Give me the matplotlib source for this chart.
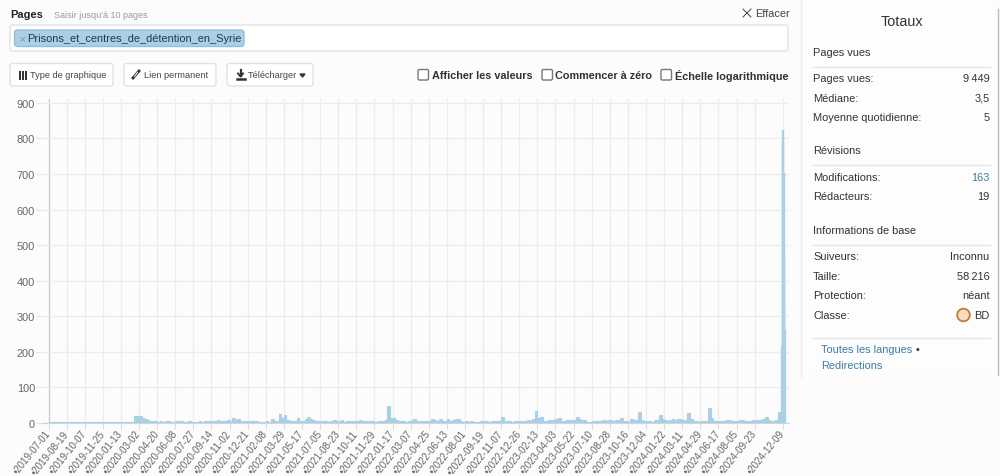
import matplotlib
matplotlib.use('Agg')
import matplotlib.pyplot as plt
import matplotlib.dates as mdates
from matplotlib.patches import FancyBboxPatch, Rectangle, Circle
import pandas as pd

tick_dates = ["2019-07-01", "2019-08-19", "2019-10-07", "2019-11-25", "2020-01-13", "2020-03-02",
              "2020-04-20", "2020-06-08", "2020-07-27", "2020-09-14", "2020-11-02", "2020-12-21",
              "2021-02-08", "2021-03-29", "2021-05-17", "2021-07-05", "2021-08-23", "2021-10-11",
              "2021-11-29", "2022-01-17", "2022-03-07", "2022-04-25", "2022-06-13", "2022-08-01",
              "2022-09-19", "2022-11-07", "2022-12-26", "2023-02-13", "2023-04-03", "2023-05-22",
              "2023-07-10", "2023-08-28", "2023-10-16", "2023-12-04", "2024-01-22", "2024-03-11",
              "2024-04-29", "2024-06-17", "2024-08-05", "2024-09-23", "2024-12-09"]
y_ticks = [0, 100, 200, 300, 400, 500, 600, 700, 800, 900]

# one value per week (7 weeks a row, one row per tick)
weekly_views = [
    2, 2, 2, 2, 2, 2, 2,
    2, 2, 2, 2, 2, 2, 2,
    2, 2, 2, 2, 2, 2, 2,
    2, 2, 2, 2, 2, 2, 2,
    2, 2, 2, 2, 2, 20, 20,
    21, 15, 12, 8, 6, 5, 5,
    4, 5, 4, 5, 7, 4, 4,
    5, 7, 5, 4, 4, 5, 4,
    4, 4, 5, 4, 5, 6, 5,
    6, 5, 9, 5, 5, 7, 9,
    7, 13, 8, 12, 6, 5, 5,
    5, 6, 5, 5, 4, 4, 3,
    5, 4, 12, 7, 6, 25, 13,
    22, 9, 5, 6, 7, 13, 6,
    7, 11, 18, 12, 8, 6, 7,
    6, 7, 5, 4, 6, 8, 5,
    5, 8, 4, 5, 5, 5, 6,
    7, 9, 6, 5, 6, 5, 5,
    4, 5, 5, 6, 8, 48, 14,
    13, 9, 5, 6, 5, 4, 5,
    8, 12, 7, 6, 5, 5, 6,
    5, 11, 8, 7, 10, 6, 5,
    10, 7, 8, 11, 11, 5, 4,
    5, 4, 5, 4, 3, 4, 5,
    5, 6, 4, 5, 5, 7, 6,
    18, 7, 6, 5, 4, 5, 6,
    7, 6, 7, 9, 6, 10, 35,
    14, 18, 7, 6, 8, 9, 8,
    11, 13, 7, 6, 8, 9, 8,
    9, 16, 12, 9, 8, 4, 4,
    7, 6, 5, 7, 8, 6, 9,
    9, 7, 8, 8, 13, 7, 5,
    4, 12, 9, 9, 32, 8, 6,
    7, 5, 4, 9, 9, 22, 10,
    8, 6, 9, 11, 9, 10, 12,
    9, 8, 28, 10, 7, 5, 4,
    5, 5, 7, 43, 15, 7, 6,
    5, 6, 7, 8, 9, 7, 6,
    5, 9, 8, 7, 6, 7, 8,
    8, 9, 8, 10, 18, 8, 7, 7, 9, 30,
]
# the last days are a spike, kept per day
spike_days = ["2024-12-07", "2024-12-08", "2024-12-09", "2024-12-10", "2024-12-11", "2024-12-12", "2024-12-13"]
spike_views = [215, 825, 790, 700, 480, 330, 260]

stats_views = [("Pages vues:", "9\u2009449"), ("Médiane:", "3,5"), ("Moyenne quotidienne:", "5")]
stats_rev = [("Modifications:", "163"), ("Rédacteurs:", "19")]
stats_info = [("Suiveurs:", "Inconnu"), ("Taille:", "58\u2009216"), ("Protection:", "néant"), ("Classe:", "BD")]

plt.rcParams['font.family'] = ['Liberation Sans', 'DejaVu Sans']
BAR = '#a9d0e6'
TXT = '#333333'
LINK = '#3d7ba3'

fig = plt.figure(figsize=(10, 4.77), dpi=100, facecolor='#fcfcfc')

# page layer in pixel coordinates
ui = fig.add_axes([0, 0, 1, 1])
ui.set_xlim(0, 1000)
ui.set_ylim(477, 0)
ui.axis('off')


def box(x0, y0, x1, y1, fc='white', ec='#e2e2e2', r=2.5, lw=1):
    ui.add_patch(FancyBboxPatch((x0 + r, y0 + r), x1 - x0 - 2 * r, y1 - y0 - 2 * r,
                                boxstyle=f"round,pad={r},rounding_size={r}", fc=fc, ec=ec, lw=lw))


def label(x, y, s, size=7.9, color=TXT, **kw):
    ui.text(x, y, s, fontsize=size, color=color, va='center', **kw)


label(10, 14.5, "Pages", size=7.9, weight='bold', color='#222222')
label(54, 15, "Saisir jusqu'à 10 pages", size=6.5, color='#999999')
ui.plot([743, 751], [10, 18], color='#444444', lw=0.7)
ui.plot([743, 751], [18, 10], color='#444444', lw=0.7)
label(755, 14, "Effacer", size=7.9, color='#444444')

box(10, 26, 788, 52)
box(14.5, 31, 244, 47.5, fc=BAR, ec='#93bfda', r=3)
label(19, 39.5, "×", size=7, color='#7d93a3')
label(27, 39, "Prisons_et_centres_de_détention_en_Syrie", size=7.95, color='#1f3b50')

box(10, 64.5, 113, 87)
box(124, 64.5, 216, 87)
box(227, 64.5, 313, 87)
for i in range(3):
    for j in range(3):
        ui.add_patch(Rectangle((18.5 + i * 3.1, 72 + j * 3.1), 2.5, 2.5, fc='#333333', ec='none'))
label(30.5, 75.8, "Type de graphique", size=6.6, color='#444444')
ui.plot([133, 139], [79, 72], color='#333333', lw=2)
ui.plot([134.5, 137.5], [77.5, 73.5], color='white', lw=0.7)
label(144.5, 75.8, "Lien permanent", size=6.6, color='#444444')
ui.plot([240.5, 240.5], [71, 77], color='#333333', lw=1.6)
ui.plot([238, 240.5, 243], [74.5, 77.5, 74.5], color='#333333', lw=1.4)
ui.plot([236.5, 244.5], [79.5, 79.5], color='#333333', lw=1.8)
label(248, 75.8, "Télécharger", size=6.6, color='#444444')
ui.fill([300, 305, 302.5], [75, 75, 78], color='#333333')

for bx, tx, s in [(418, 432, "Afficher les valeurs"), (542, 555, "Commencer à zéro"), (661, 675, "Échelle logarithmique")]:
    box(bx, 70.5, bx + 10.5, 81, ec='#777777', r=1.5)
    label(tx, 75.8, s, size=7.85, weight='bold', color='#333333')

# right panel
ui.add_patch(Rectangle((801, 0), 196, 376, fc='#fdfdfd', ec='none'))
ui.plot([801, 801], [0, 378], color='#ececec', lw=1)
ui.plot([997.5, 997.5], [10, 376], color='#bbbbbb', lw=1)
ui.text(901.5, 22, "Totaux", fontsize=10.4, color=TXT, ha='center', va='center')


def section(title, y_title, y_line, rows, y_rows):
    label(813, y_title, title)
    ui.plot([813, 990], [y_line, y_line], color='#e4e4e4', lw=1)
    for (name, val), y in zip(rows, y_rows):
        label(813, y, name)
        label(989.5, y, val, ha='right', color=LINK if val == "163" else TXT)


section("Pages vues", 53, 67.5, stats_views, [79, 98.5, 118])
section("Révisions", 151, 165.5, stats_rev, [178, 197])
section("Informations de base", 231, 245.5, stats_info, [257, 277, 296, 316])
ui.add_patch(Circle((963.5, 316), 6.3, fc='#fbdcc0', ec='#c47a35', lw=1.3))
ui.plot([813, 990], [338.5, 338.5], color='#e4e4e4', lw=1)
label(821, 350, "Toutes les langues", color=LINK)
label(915.5, 350, "•")
label(821, 366, "Redirections", color=LINK)

# chart, 0.3695 px per day with 2019-07-01 at x=48.5
px_day = 0.3695
start = mdates.date2num(pd.Timestamp(tick_dates[0]))
ax = fig.add_axes([42 / 1000, 1 - 424 / 477, (789 - 42) / 1000, (424 - 100) / 477])
ax.patch.set_alpha(0)
ax.set_xlim(start - (48.5 - 42) / px_day, start + (789 - 48.5) / px_day)
ax.set_ylim(0, 911)

week_dates = pd.date_range(tick_dates[0], periods=len(weekly_views), freq='7D')
ax.bar(week_dates, weekly_views, width=7, align='edge', color=BAR, ec=BAR, lw=0.8, zorder=3)
ax.bar(pd.to_datetime(spike_days), spike_views, width=1, color=BAR, ec=BAR, lw=1.7, zorder=3)

ticks = pd.to_datetime(tick_dates)
ax.set_xticks(ticks)
ax.set_xticklabels(["•" + t for t in tick_dates], rotation=51, ha='right', va='center',
                   rotation_mode='anchor', fontsize=7, color='#666666')
ax.set_yticks(y_ticks)
ax.tick_params(axis='y', length=4, color='#e6e6e6', labelsize=7.9, labelcolor='#666666', pad=1)
ax.tick_params(axis='x', length=4, color='#dcdcdc', pad=2)
ax.grid(True, color='#ececec', lw=0.9, zorder=0)
ax.set_axisbelow(True)
ax.get_xgridlines()[0].set_color('#c8c8c8')
for name in ['top', 'right', 'left']:
    ax.spines[name].set_visible(False)
ax.spines['bottom'].set_color('#d4d4d4')

fig.savefig('out.png', dpi=100, facecolor=fig.get_facecolor())
